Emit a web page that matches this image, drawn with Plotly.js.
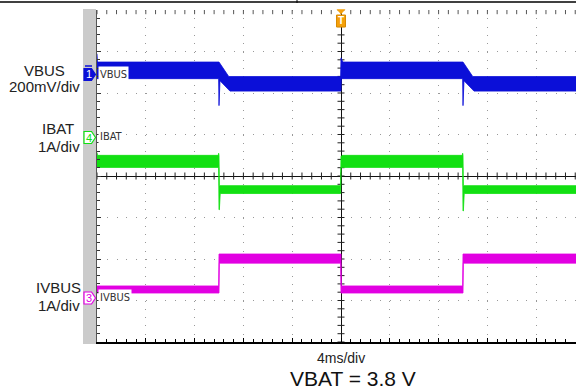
<!DOCTYPE html>
<html><head><meta charset="utf-8">
<script src="https://cdn.plot.ly/plotly-3.0.1.min.js"></script>
<style>html,body{margin:0;padding:0;background:#fff}#chart{width:576px;height:392px}</style>
</head><body><div id="chart"></div>
<script>
// ---- Data (time in ms, trigger at 0, 4 ms/div) ----
// Each channel is drawn as the envelope of its noisy scope trace (upper / lower edge).
const vbusTUp = [-20, -19.96, -10.0, -9.2, -0.03, 0.0, 0.15, 10.0, 10.8, 19.3];
const vbusUp  = [5.10, 5.06, 5.06, 4.99, 4.99, 5.08, 5.06, 5.06, 4.99, 4.99];
const vbusTLo = [-20, -10.03, -10.0, -9.96, -9.92, -9.1, 0.0, 0.03, 9.97, 10.0, 10.04, 10.08, 10.9, 19.3];
const vbusLo  = [4.98, 4.98, 4.85, 4.85, 4.97, 4.92, 4.92, 4.98, 4.98, 4.85, 4.85, 4.97, 4.92, 4.92];

const ibatTUp = [-20, -19.96, -10.06, -10.03, -10.0, -9.97, -0.03, 0.0, 0.1, 9.94, 9.97, 10.0, 10.03, 19.3];
const ibatUp  = [-0.36, -0.43, -0.43, -0.38, -0.43, -1.16, -1.16, -0.46, -0.43, -0.43, -0.38, -0.43, -1.16, -1.16];
const ibatTLo = [-20, -10.03, -10.0, -9.97, -9.9, -0.03, 0.0, 9.97, 10.0, 10.03, 10.1, 19.3];
const ibatLo  = [-0.72, -0.72, -1.74, -1.74, -1.35, -1.35, -0.72, -0.72, -1.77, -1.77, -1.35, -1.35];

const ivbusTUp = [-20, -10.03, -10.0, 0.0, 0.03, 9.97, 10.0, 19.3];
const ivbusUp  = [0.29, 0.29, 1.06, 1.06, 0.29, 0.29, 1.06, 1.06];
const ivbusTLo = [-20, -10.0, -9.97, -0.03, 0.0, 10.0, 10.03, 19.3];
const ivbusLo  = [0.12, 0.12, 0.84, 0.84, 0.12, 0.12, 0.84, 0.84];

const channelNames = ['VBUS', 'IBAT', 'IVBUS'];
const channelScales = ['200mV/div', '1A/div', '1A/div'];
const channelNumbers = ['1', '4', '3'];
const timeBase = '4ms/div';
const footnote = 'VBAT = 3.8 V';

// ---- layout helpers ----
const L = 97, R = 576, T = 10, B = 342;
const px = x => (x - L) / (R - L);
const py = y => (B - y) / (B - T);
const DIV_PX = (B - T) / 8;

const chans = [
  {name: channelNames[0], tu: vbusTUp, u: vbusUp, tl: vbusTLo, l: vbusLo, color: '#0b0fd8', ref: 5.0, per: 0.2, mark: 74.5, ax: 'y2'},
  {name: channelNames[1], tu: ibatTUp, u: ibatUp, tl: ibatTLo, l: ibatLo, color: '#12e012', ref: 0, per: 1, mark: 137.5, ax: 'y3'},
  {name: channelNames[2], tu: ivbusTUp, u: ivbusUp, tl: ivbusTLo, l: ivbusLo, color: '#e200e2', ref: 0, per: 1, mark: 298, ax: 'y4'}
];

const xRange = [-20, -20 + (R - L) / 48.8 * 4];

const traces = [];
// center-line tick marks (graticule)
const hx = [], hy = [], vx = [], vy = [], tx = [], ty = [];
for (let k = -25; k <= 25; k++) { hx.push(k * 0.8); hy.push(0); tx.push(k * 0.8); ty.push(4); }
for (let k = -20; k <= 20; k++) { vx.push(0); vy.push(k * 0.2); }
traces.push({x: hx, y: hy, mode: 'markers', hoverinfo: 'skip', showlegend: false,
  marker: {symbol: 'line-ns', size: 5, line: {width: 1, color: '#222'}}});
traces.push({x: vx, y: vy, mode: 'markers', hoverinfo: 'skip', showlegend: false,
  marker: {symbol: 'line-ew', size: 5, line: {width: 1, color: '#222'}}});
traces.push({x: tx, y: ty, mode: 'markers', hoverinfo: 'skip', showlegend: false,
  marker: {symbol: 'line-ns', size: 6, line: {width: 1, color: '#555'}}});

chans.forEach(c => {
  traces.push({
    x: c.tu.concat(c.tl.slice().reverse()),
    y: c.u.concat(c.l.slice().reverse()),
    yaxis: c.ax, mode: 'lines', fill: 'toself', fillcolor: c.color,
    line: {color: c.color, width: 0.8}, hoverinfo: 'skip', showlegend: false
  });
});

const layout = {
  width: 576, height: 392,
  margin: {l: L, r: 576 - R, t: T, b: 392 - B, pad: 0},
  paper_bgcolor: '#fff', plot_bgcolor: '#fff',
  showlegend: false,
  xaxis: {range: xRange, tick0: 0, dtick: 4, showgrid: true, gridcolor: '#999', gridwidth: 1,
    griddash: '1px,7.3px', zeroline: true, zerolinecolor: '#111', zerolinewidth: 1,
    showline: true, linecolor: '#000', linewidth: 2, ticks: 'inside', ticklen: 4, tickcolor: '#000',
    minor: {dtick: 0.8, tick0: 0, ticks: 'inside', ticklen: 3, tickcolor: '#000', showgrid: false},
    showticklabels: false, fixedrange: true},
  yaxis: {range: [-4, 4], tick0: 0, dtick: 1, showgrid: true, gridcolor: '#999', gridwidth: 1,
    griddash: '1px,8.76px', zeroline: true, zerolinecolor: '#111', zerolinewidth: 1,
    showline: true, linecolor: '#555', linewidth: 1, ticks: 'inside', ticklen: 4, tickcolor: '#333',
    minor: {dtick: 0.2, tick0: 0, ticks: 'inside', ticklen: 3, tickcolor: '#333', showgrid: false},
    showticklabels: false, fixedrange: true},
  shapes: [], annotations: []
};

chans.forEach((c, i) => {
  const d = (176 - c.mark) / DIV_PX;
  layout['yaxis' + (i + 2)] = {overlaying: 'y', visible: false, fixedrange: true,
    range: [c.ref - (4 + d) * c.per, c.ref + (4 - d) * c.per]};
});

// gray strip left of graticule
layout.shapes.push({type: 'rect', xref: 'paper', yref: 'paper', x0: px(83), x1: px(96), y0: py(344), y1: py(9),
  fillcolor: '#cbcbcb', line: {width: 0}, layer: 'below'});
// top border line
layout.shapes.push({type: 'line', xref: 'paper', yref: 'paper', x0: px(0), x1: px(576), y0: py(2), y1: py(2),
  line: {color: '#000', width: 1.5}});
layout.shapes.push({type: 'line', xref: 'paper', yref: 'paper', x0: px(297), x1: px(297), y0: py(0), y1: py(3),
  line: {color: '#000', width: 1}});

// channel markers
const markerPath = (y) => `M ${px(84)},${py(y - 6)} L ${px(91.5)},${py(y - 6)} L ${px(95.5)},${py(y)} L ${px(91.5)},${py(y + 6)} L ${px(84)},${py(y + 6)} Z`;
chans.forEach((c, i) => {
  layout.shapes.push({type: 'path', xref: 'paper', yref: 'paper', path: markerPath(c.mark),
    fillcolor: i === 0 ? c.color : '#fff', line: {color: c.color, width: 1.2}});
  layout.annotations.push({xref: 'paper', yref: 'paper', x: px(88.5), y: py(c.mark), text: channelNumbers[i],
    showarrow: false, xanchor: 'center', yanchor: 'middle',
    font: {family: 'Liberation Sans, Arial, sans-serif', size: 11, color: i === 0 ? '#fff' : c.color}});
});
layout.shapes.push({type: 'line', xref: 'paper', yref: 'paper', x0: px(85), x1: px(92), y0: py(66), y1: py(66),
  line: {color: chans[0].color, width: 1.5}});

// trace labels next to markers
const labY = [74.5, 136.5, 297];
chans.forEach((c, i) => {
  layout.annotations.push({xref: 'paper', yref: 'paper', x: px(97.5), y: py(labY[i]), text: c.name,
    showarrow: false, xanchor: 'left', yanchor: 'middle', bgcolor: '#fff', borderpad: 1,
    font: {family: 'Liberation Sans Narrow, DejaVu Sans Condensed, sans-serif', size: 11, color: '#333'}});
});

// left channel labels
const leftLabels = [
  [channelNames[0], 44, 70], [channelScales[0], 44, 86.5],
  [channelNames[1], 58, 128.5], [channelScales[1], 59, 146],
  [channelNames[2], 58, 287.5], [channelScales[2], 59, 305.5]
];
leftLabels.forEach(a => layout.annotations.push({xref: 'paper', yref: 'paper', x: px(a[1]), y: py(a[2]), text: a[0],
  showarrow: false, xanchor: 'center', yanchor: 'middle',
  font: {family: 'Liberation Sans, Arial, sans-serif', size: 15, color: '#222'}}));

// bottom texts
layout.annotations.push({xref: 'paper', yref: 'paper', x: px(341), y: py(357.5), text: timeBase, showarrow: false,
  xanchor: 'center', yanchor: 'middle', font: {family: 'Liberation Sans, Arial, sans-serif', size: 14, color: '#222'}});
layout.annotations.push({xref: 'paper', yref: 'paper', x: px(353), y: py(378), text: footnote, showarrow: false,
  xanchor: 'center', yanchor: 'middle', font: {family: 'Liberation Sans, Arial, sans-serif', size: 21, color: '#111'}});

// trigger marker
layout.shapes.push({type: 'path', xref: 'paper', yref: 'paper',
  path: `M ${px(337)},${py(9.5)} L ${px(345)},${py(9.5)} L ${px(341)},${py(14)} Z`,
  fillcolor: '#f5a00a', line: {color: '#f5a00a', width: 0.5}});
layout.shapes.push({type: 'rect', xref: 'paper', yref: 'paper', x0: px(336.5), x1: px(345.5), y0: py(27), y1: py(15),
  fillcolor: '#f5a00a', line: {color: '#d88a00', width: 1}});
layout.annotations.push({xref: 'paper', yref: 'paper', x: px(341), y: py(21), text: '<b>T</b>', showarrow: false,
  xanchor: 'center', yanchor: 'middle', font: {family: 'Liberation Sans, Arial, sans-serif', size: 10, color: '#fff'}});

Plotly.newPlot('chart', traces, layout, {displayModeBar: false, staticPlot: true});
</script>
</body></html>
